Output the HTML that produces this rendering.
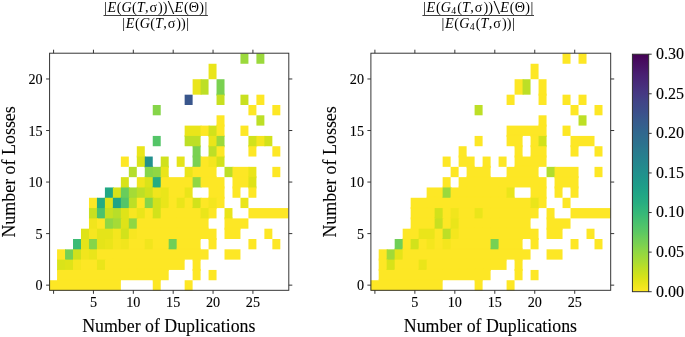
<!DOCTYPE html>
<html><head><meta charset="utf-8"><title>Heatmaps</title>
<style>
html,body{margin:0;padding:0;background:#fff;}
svg{display:block;will-change:transform}
svg text{filter:grayscale(1)}
text{font-family:"Liberation Serif",serif;fill:#000;stroke:#000;stroke-width:0.12px}
.tk{font-size:14.6px}
.cb{font-size:16px}
.lb{font-size:19.6px}
.tt{font-size:14.2px;stroke:none}
.it{font-style:italic}
.sub{font-size:9.8px}
</style></head><body>
<svg width="685" height="337" viewBox="0 0 685 337">
<rect width="685" height="337" fill="#fff"/>
<g id="hm-left">
<rect x="240.46" y="53.45" width="7.97" height="10.31" fill="#9bd93c"/>
<rect x="256.41" y="53.45" width="7.97" height="10.31" fill="#9bd93c"/>
<rect x="208.57" y="63.76" width="7.97" height="15.46" fill="#eae51a"/>
<rect x="192.62" y="79.22" width="8.97" height="15.46" fill="#eae51a"/>
<rect x="200.59" y="79.22" width="7.97" height="15.46" fill="#bddf26"/>
<rect x="216.54" y="79.22" width="7.97" height="15.46" fill="#7ad151"/>
<rect x="216.54" y="93.68" width="7.97" height="2.0" fill="#7ad151"/>
<rect x="184.65" y="94.68" width="7.97" height="10.31" fill="#39568c"/>
<rect x="216.54" y="94.68" width="7.97" height="10.31" fill="#c8e020"/>
<rect x="240.46" y="94.68" width="7.97" height="10.31" fill="#c8e020"/>
<rect x="256.41" y="94.68" width="7.97" height="10.31" fill="#fde725"/>
<rect x="152.75" y="104.99" width="7.97" height="10.31" fill="#86d549"/>
<rect x="248.43" y="104.99" width="7.97" height="10.31" fill="#fde725"/>
<rect x="272.35" y="104.99" width="7.97" height="10.31" fill="#fde725"/>
<rect x="216.54" y="115.30" width="7.97" height="10.31" fill="#fde725"/>
<rect x="216.54" y="124.61" width="7.97" height="2.0" fill="#fde725"/>
<rect x="256.41" y="115.30" width="7.97" height="10.31" fill="#bddf26"/>
<rect x="184.65" y="125.61" width="16.95" height="10.31" fill="#eae51a"/>
<rect x="184.65" y="134.92" width="8.97" height="2.0" fill="#eae51a"/>
<rect x="192.62" y="134.92" width="7.97" height="2.0" fill="#eae51a"/>
<rect x="200.59" y="125.61" width="8.97" height="10.31" fill="#fde725"/>
<rect x="208.57" y="125.61" width="8.97" height="10.31" fill="#d2e21b"/>
<rect x="208.57" y="134.92" width="8.97" height="2.0" fill="#d2e21b"/>
<rect x="216.54" y="125.61" width="7.97" height="10.31" fill="#fde725"/>
<rect x="216.54" y="134.92" width="7.97" height="2.0" fill="#fde725"/>
<rect x="240.46" y="125.61" width="7.97" height="10.31" fill="#fde725"/>
<rect x="152.75" y="135.92" width="7.97" height="10.31" fill="#54c568"/>
<rect x="184.65" y="135.92" width="15.95" height="10.31" fill="#bddf26"/>
<rect x="192.62" y="145.23" width="7.97" height="2.0" fill="#bddf26"/>
<rect x="208.57" y="135.92" width="8.97" height="10.31" fill="#eae51a"/>
<rect x="208.57" y="145.23" width="8.97" height="2.0" fill="#eae51a"/>
<rect x="216.54" y="135.92" width="7.97" height="10.31" fill="#9bd93c"/>
<rect x="216.54" y="145.23" width="7.97" height="2.0" fill="#9bd93c"/>
<rect x="248.43" y="135.92" width="8.97" height="10.31" fill="#d2e21b"/>
<rect x="248.43" y="145.23" width="7.97" height="2.0" fill="#d2e21b"/>
<rect x="256.41" y="135.92" width="8.97" height="10.31" fill="#f4e61e"/>
<rect x="264.38" y="135.92" width="7.97" height="10.31" fill="#d2e21b"/>
<rect x="136.81" y="146.23" width="7.97" height="10.31" fill="#eae51a"/>
<rect x="136.81" y="155.54" width="7.97" height="2.0" fill="#eae51a"/>
<rect x="192.62" y="146.23" width="7.97" height="10.31" fill="#7ad151"/>
<rect x="192.62" y="155.54" width="7.97" height="2.0" fill="#7ad151"/>
<rect x="208.57" y="146.23" width="8.97" height="10.31" fill="#bddf26"/>
<rect x="208.57" y="155.54" width="8.97" height="2.0" fill="#bddf26"/>
<rect x="216.54" y="146.23" width="7.97" height="10.31" fill="#fde725"/>
<rect x="216.54" y="155.54" width="7.97" height="2.0" fill="#fde725"/>
<rect x="248.43" y="146.23" width="7.97" height="10.31" fill="#fde725"/>
<rect x="272.35" y="146.23" width="7.97" height="10.31" fill="#fde725"/>
<rect x="120.86" y="156.54" width="7.97" height="10.31" fill="#fde725"/>
<rect x="136.81" y="156.54" width="8.97" height="10.31" fill="#dae319"/>
<rect x="144.78" y="156.54" width="7.97" height="10.31" fill="#21908d"/>
<rect x="144.78" y="165.85" width="7.97" height="2.0" fill="#21908d"/>
<rect x="160.73" y="156.54" width="7.97" height="10.31" fill="#d0e11c"/>
<rect x="160.73" y="165.85" width="7.97" height="2.0" fill="#d0e11c"/>
<rect x="176.67" y="156.54" width="7.97" height="10.31" fill="#e5e419"/>
<rect x="192.62" y="156.54" width="8.97" height="10.31" fill="#7ad151"/>
<rect x="192.62" y="165.85" width="8.97" height="2.0" fill="#7ad151"/>
<rect x="200.59" y="156.54" width="8.97" height="10.31" fill="#fde725"/>
<rect x="200.59" y="165.85" width="8.97" height="2.0" fill="#fde725"/>
<rect x="208.57" y="156.54" width="8.97" height="10.31" fill="#f4e61e"/>
<rect x="208.57" y="165.85" width="7.97" height="2.0" fill="#f4e61e"/>
<rect x="216.54" y="156.54" width="7.97" height="10.31" fill="#d2e21b"/>
<rect x="128.83" y="166.85" width="7.97" height="10.31" fill="#b5de2b"/>
<rect x="144.78" y="166.85" width="8.97" height="10.31" fill="#86d549"/>
<rect x="144.78" y="176.15" width="8.97" height="2.0" fill="#86d549"/>
<rect x="152.75" y="166.85" width="8.97" height="10.31" fill="#90d743"/>
<rect x="152.75" y="176.15" width="8.97" height="2.0" fill="#90d743"/>
<rect x="160.73" y="166.85" width="7.97" height="10.31" fill="#eae51a"/>
<rect x="160.73" y="176.15" width="7.97" height="2.0" fill="#eae51a"/>
<rect x="184.65" y="166.85" width="8.97" height="10.31" fill="#eae51a"/>
<rect x="184.65" y="176.15" width="8.97" height="2.0" fill="#eae51a"/>
<rect x="192.62" y="166.85" width="23.92" height="10.31" fill="#fde725"/>
<rect x="192.62" y="176.15" width="8.97" height="2.0" fill="#fde725"/>
<rect x="200.59" y="176.15" width="8.97" height="2.0" fill="#fde725"/>
<rect x="208.57" y="176.15" width="7.97" height="2.0" fill="#fde725"/>
<rect x="224.51" y="166.85" width="8.97" height="10.31" fill="#bddf26"/>
<rect x="232.49" y="166.85" width="16.95" height="10.31" fill="#fde725"/>
<rect x="232.49" y="176.15" width="8.97" height="2.0" fill="#fde725"/>
<rect x="240.46" y="176.15" width="8.97" height="2.0" fill="#fde725"/>
<rect x="248.43" y="166.85" width="7.97" height="10.31" fill="#eae51a"/>
<rect x="248.43" y="176.15" width="7.97" height="2.0" fill="#eae51a"/>
<rect x="272.35" y="166.85" width="7.97" height="10.31" fill="#fde725"/>
<rect x="120.86" y="177.15" width="7.97" height="10.31" fill="#d8e219"/>
<rect x="120.86" y="186.46" width="7.97" height="2.0" fill="#d8e219"/>
<rect x="136.81" y="177.15" width="8.97" height="10.31" fill="#f1e51d"/>
<rect x="136.81" y="186.46" width="8.97" height="2.0" fill="#f1e51d"/>
<rect x="144.78" y="177.15" width="8.97" height="10.31" fill="#dae319"/>
<rect x="144.78" y="186.46" width="8.97" height="2.0" fill="#dae319"/>
<rect x="152.75" y="177.15" width="8.97" height="10.31" fill="#25ac82"/>
<rect x="152.75" y="186.46" width="8.97" height="2.0" fill="#25ac82"/>
<rect x="160.73" y="177.15" width="32.89" height="10.31" fill="#fde725"/>
<rect x="160.73" y="186.46" width="8.97" height="2.0" fill="#fde725"/>
<rect x="168.70" y="186.46" width="8.97" height="2.0" fill="#fde725"/>
<rect x="176.67" y="186.46" width="8.97" height="2.0" fill="#fde725"/>
<rect x="184.65" y="186.46" width="7.97" height="2.0" fill="#fde725"/>
<rect x="192.62" y="177.15" width="8.97" height="10.31" fill="#90d743"/>
<rect x="200.59" y="177.15" width="23.92" height="10.31" fill="#fde725"/>
<rect x="208.57" y="186.46" width="8.97" height="2.0" fill="#fde725"/>
<rect x="216.54" y="186.46" width="7.97" height="2.0" fill="#fde725"/>
<rect x="232.49" y="177.15" width="16.95" height="10.31" fill="#fde725"/>
<rect x="232.49" y="186.46" width="7.97" height="2.0" fill="#fde725"/>
<rect x="248.43" y="177.15" width="7.97" height="10.31" fill="#dfe318"/>
<rect x="248.43" y="186.46" width="7.97" height="2.0" fill="#dfe318"/>
<rect x="104.91" y="187.46" width="8.97" height="10.31" fill="#22a884"/>
<rect x="104.91" y="196.77" width="8.97" height="2.0" fill="#22a884"/>
<rect x="112.89" y="187.46" width="8.97" height="10.31" fill="#d8e219"/>
<rect x="112.89" y="196.77" width="8.97" height="2.0" fill="#d8e219"/>
<rect x="120.86" y="187.46" width="8.97" height="10.31" fill="#69cd5b"/>
<rect x="120.86" y="196.77" width="8.97" height="2.0" fill="#69cd5b"/>
<rect x="128.83" y="187.46" width="8.97" height="10.31" fill="#a5db36"/>
<rect x="128.83" y="196.77" width="8.97" height="2.0" fill="#a5db36"/>
<rect x="136.81" y="187.46" width="8.97" height="10.31" fill="#bddf26"/>
<rect x="136.81" y="196.77" width="8.97" height="2.0" fill="#bddf26"/>
<rect x="144.78" y="187.46" width="8.97" height="10.31" fill="#d0e11c"/>
<rect x="144.78" y="196.77" width="8.97" height="2.0" fill="#d0e11c"/>
<rect x="152.75" y="187.46" width="8.97" height="10.31" fill="#f1e51d"/>
<rect x="152.75" y="196.77" width="8.97" height="2.0" fill="#f1e51d"/>
<rect x="160.73" y="187.46" width="8.97" height="10.31" fill="#eae51a"/>
<rect x="160.73" y="196.77" width="8.97" height="2.0" fill="#eae51a"/>
<rect x="168.70" y="187.46" width="16.95" height="10.31" fill="#fde725"/>
<rect x="168.70" y="196.77" width="8.97" height="2.0" fill="#fde725"/>
<rect x="176.67" y="196.77" width="8.97" height="2.0" fill="#fde725"/>
<rect x="184.65" y="187.46" width="7.97" height="10.31" fill="#eae51a"/>
<rect x="184.65" y="196.77" width="7.97" height="2.0" fill="#eae51a"/>
<rect x="208.57" y="187.46" width="15.95" height="10.31" fill="#fde725"/>
<rect x="208.57" y="196.77" width="8.97" height="2.0" fill="#fde725"/>
<rect x="216.54" y="196.77" width="7.97" height="2.0" fill="#fde725"/>
<rect x="232.49" y="187.46" width="7.97" height="10.31" fill="#fde725"/>
<rect x="248.43" y="187.46" width="7.97" height="10.31" fill="#fde725"/>
<rect x="88.97" y="197.77" width="8.97" height="10.31" fill="#fde725"/>
<rect x="88.97" y="207.08" width="8.97" height="2.0" fill="#fde725"/>
<rect x="96.94" y="197.77" width="8.97" height="10.31" fill="#25ac82"/>
<rect x="96.94" y="207.08" width="8.97" height="2.0" fill="#25ac82"/>
<rect x="104.91" y="197.77" width="8.97" height="10.31" fill="#dfe318"/>
<rect x="104.91" y="207.08" width="8.97" height="2.0" fill="#dfe318"/>
<rect x="112.89" y="197.77" width="8.97" height="10.31" fill="#20a486"/>
<rect x="112.89" y="207.08" width="8.97" height="2.0" fill="#20a486"/>
<rect x="120.86" y="197.77" width="8.97" height="10.31" fill="#54c568"/>
<rect x="120.86" y="207.08" width="8.97" height="2.0" fill="#54c568"/>
<rect x="128.83" y="197.77" width="8.97" height="10.31" fill="#bddf26"/>
<rect x="128.83" y="207.08" width="8.97" height="2.0" fill="#bddf26"/>
<rect x="136.81" y="197.77" width="8.97" height="10.31" fill="#fde725"/>
<rect x="136.81" y="207.08" width="8.97" height="2.0" fill="#fde725"/>
<rect x="144.78" y="197.77" width="8.97" height="10.31" fill="#86d549"/>
<rect x="144.78" y="207.08" width="8.97" height="2.0" fill="#86d549"/>
<rect x="152.75" y="197.77" width="8.97" height="10.31" fill="#d2e21b"/>
<rect x="152.75" y="207.08" width="8.97" height="2.0" fill="#d2e21b"/>
<rect x="160.73" y="197.77" width="8.97" height="10.31" fill="#eae51a"/>
<rect x="160.73" y="207.08" width="8.97" height="2.0" fill="#eae51a"/>
<rect x="168.70" y="197.77" width="8.97" height="10.31" fill="#fde725"/>
<rect x="168.70" y="207.08" width="8.97" height="2.0" fill="#fde725"/>
<rect x="176.67" y="197.77" width="8.97" height="10.31" fill="#eae51a"/>
<rect x="176.67" y="207.08" width="8.97" height="2.0" fill="#eae51a"/>
<rect x="184.65" y="197.77" width="8.97" height="10.31" fill="#fde725"/>
<rect x="184.65" y="207.08" width="8.97" height="2.0" fill="#fde725"/>
<rect x="192.62" y="197.77" width="8.97" height="10.31" fill="#d2e21b"/>
<rect x="192.62" y="207.08" width="8.97" height="2.0" fill="#d2e21b"/>
<rect x="200.59" y="197.77" width="8.97" height="10.31" fill="#fde725"/>
<rect x="200.59" y="207.08" width="8.97" height="2.0" fill="#fde725"/>
<rect x="208.57" y="197.77" width="8.97" height="10.31" fill="#f4e61e"/>
<rect x="208.57" y="207.08" width="7.97" height="2.0" fill="#f4e61e"/>
<rect x="216.54" y="197.77" width="7.97" height="10.31" fill="#fde725"/>
<rect x="240.46" y="197.77" width="7.97" height="10.31" fill="#eae51a"/>
<rect x="88.97" y="208.08" width="8.97" height="10.31" fill="#c8e020"/>
<rect x="88.97" y="217.39" width="8.97" height="2.0" fill="#c8e020"/>
<rect x="96.94" y="208.08" width="8.97" height="10.31" fill="#4cc26c"/>
<rect x="96.94" y="217.39" width="8.97" height="2.0" fill="#4cc26c"/>
<rect x="104.91" y="208.08" width="8.97" height="10.31" fill="#c8e020"/>
<rect x="104.91" y="217.39" width="8.97" height="2.0" fill="#c8e020"/>
<rect x="112.89" y="208.08" width="8.97" height="10.31" fill="#b8de29"/>
<rect x="112.89" y="217.39" width="8.97" height="2.0" fill="#b8de29"/>
<rect x="120.86" y="208.08" width="8.97" height="10.31" fill="#dfe318"/>
<rect x="120.86" y="217.39" width="8.97" height="2.0" fill="#dfe318"/>
<rect x="128.83" y="208.08" width="8.97" height="10.31" fill="#f8e621"/>
<rect x="128.83" y="217.39" width="8.97" height="2.0" fill="#f8e621"/>
<rect x="136.81" y="208.08" width="8.97" height="10.31" fill="#eae51a"/>
<rect x="136.81" y="217.39" width="8.97" height="2.0" fill="#eae51a"/>
<rect x="144.78" y="208.08" width="8.97" height="10.31" fill="#fde725"/>
<rect x="144.78" y="217.39" width="8.97" height="2.0" fill="#fde725"/>
<rect x="152.75" y="208.08" width="8.97" height="10.31" fill="#d2e21b"/>
<rect x="152.75" y="217.39" width="8.97" height="2.0" fill="#d2e21b"/>
<rect x="160.73" y="208.08" width="40.87" height="10.31" fill="#fde725"/>
<rect x="160.73" y="217.39" width="8.97" height="2.0" fill="#fde725"/>
<rect x="168.70" y="217.39" width="8.97" height="2.0" fill="#fde725"/>
<rect x="176.67" y="217.39" width="8.97" height="2.0" fill="#fde725"/>
<rect x="184.65" y="217.39" width="8.97" height="2.0" fill="#fde725"/>
<rect x="192.62" y="217.39" width="8.97" height="2.0" fill="#fde725"/>
<rect x="200.59" y="208.08" width="8.97" height="10.31" fill="#eae51a"/>
<rect x="200.59" y="217.39" width="7.97" height="2.0" fill="#eae51a"/>
<rect x="208.57" y="208.08" width="7.97" height="10.31" fill="#fde725"/>
<rect x="224.51" y="208.08" width="7.97" height="10.31" fill="#eae51a"/>
<rect x="224.51" y="217.39" width="7.97" height="2.0" fill="#eae51a"/>
<rect x="248.43" y="208.08" width="39.87" height="10.31" fill="#fde725"/>
<rect x="88.97" y="218.39" width="8.97" height="10.31" fill="#f1e51d"/>
<rect x="88.97" y="227.70" width="8.97" height="2.0" fill="#f1e51d"/>
<rect x="96.94" y="218.39" width="8.97" height="10.31" fill="#fde725"/>
<rect x="96.94" y="227.70" width="8.97" height="2.0" fill="#fde725"/>
<rect x="104.91" y="218.39" width="8.97" height="10.31" fill="#90d743"/>
<rect x="104.91" y="227.70" width="8.97" height="2.0" fill="#90d743"/>
<rect x="112.89" y="218.39" width="8.97" height="10.31" fill="#a5db36"/>
<rect x="112.89" y="227.70" width="8.97" height="2.0" fill="#a5db36"/>
<rect x="120.86" y="218.39" width="8.97" height="10.31" fill="#dfe318"/>
<rect x="120.86" y="227.70" width="8.97" height="2.0" fill="#dfe318"/>
<rect x="128.83" y="218.39" width="8.97" height="10.31" fill="#90d743"/>
<rect x="128.83" y="227.70" width="8.97" height="2.0" fill="#90d743"/>
<rect x="136.81" y="218.39" width="71.76" height="10.31" fill="#fde725"/>
<rect x="136.81" y="227.70" width="8.97" height="2.0" fill="#fde725"/>
<rect x="144.78" y="227.70" width="8.97" height="2.0" fill="#fde725"/>
<rect x="152.75" y="227.70" width="8.97" height="2.0" fill="#fde725"/>
<rect x="160.73" y="227.70" width="8.97" height="2.0" fill="#fde725"/>
<rect x="168.70" y="227.70" width="8.97" height="2.0" fill="#fde725"/>
<rect x="176.67" y="227.70" width="8.97" height="2.0" fill="#fde725"/>
<rect x="184.65" y="227.70" width="8.97" height="2.0" fill="#fde725"/>
<rect x="192.62" y="227.70" width="8.97" height="2.0" fill="#fde725"/>
<rect x="200.59" y="227.70" width="7.97" height="2.0" fill="#fde725"/>
<rect x="224.51" y="218.39" width="23.92" height="10.31" fill="#fde725"/>
<rect x="224.51" y="227.70" width="8.97" height="2.0" fill="#fde725"/>
<rect x="232.49" y="227.70" width="7.97" height="2.0" fill="#fde725"/>
<rect x="80.99" y="228.70" width="8.97" height="10.31" fill="#dfe318"/>
<rect x="80.99" y="238.01" width="8.97" height="2.0" fill="#dfe318"/>
<rect x="88.97" y="228.70" width="8.97" height="10.31" fill="#f6e620"/>
<rect x="88.97" y="238.01" width="8.97" height="2.0" fill="#f6e620"/>
<rect x="96.94" y="228.70" width="16.95" height="10.31" fill="#e5e419"/>
<rect x="96.94" y="238.01" width="8.97" height="2.0" fill="#e5e419"/>
<rect x="104.91" y="238.01" width="8.97" height="2.0" fill="#e5e419"/>
<rect x="112.89" y="228.70" width="8.97" height="10.31" fill="#f4e61e"/>
<rect x="112.89" y="238.01" width="8.97" height="2.0" fill="#f4e61e"/>
<rect x="120.86" y="228.70" width="8.97" height="10.31" fill="#d2e21b"/>
<rect x="120.86" y="238.01" width="8.97" height="2.0" fill="#d2e21b"/>
<rect x="128.83" y="228.70" width="8.97" height="10.31" fill="#f8e621"/>
<rect x="128.83" y="238.01" width="8.97" height="2.0" fill="#f8e621"/>
<rect x="136.81" y="228.70" width="79.73" height="10.31" fill="#fde725"/>
<rect x="136.81" y="238.01" width="8.97" height="2.0" fill="#fde725"/>
<rect x="144.78" y="238.01" width="8.97" height="2.0" fill="#fde725"/>
<rect x="152.75" y="238.01" width="8.97" height="2.0" fill="#fde725"/>
<rect x="160.73" y="238.01" width="8.97" height="2.0" fill="#fde725"/>
<rect x="168.70" y="238.01" width="8.97" height="2.0" fill="#fde725"/>
<rect x="176.67" y="238.01" width="8.97" height="2.0" fill="#fde725"/>
<rect x="184.65" y="238.01" width="8.97" height="2.0" fill="#fde725"/>
<rect x="192.62" y="238.01" width="7.97" height="2.0" fill="#fde725"/>
<rect x="208.57" y="238.01" width="7.97" height="2.0" fill="#fde725"/>
<rect x="224.51" y="228.70" width="15.95" height="10.31" fill="#fde725"/>
<rect x="264.38" y="228.70" width="7.97" height="10.31" fill="#fde725"/>
<rect x="73.02" y="239.01" width="8.97" height="10.31" fill="#3bbb75"/>
<rect x="73.02" y="248.32" width="8.97" height="2.0" fill="#3bbb75"/>
<rect x="80.99" y="239.01" width="8.97" height="10.31" fill="#e5e419"/>
<rect x="80.99" y="248.32" width="8.97" height="2.0" fill="#e5e419"/>
<rect x="88.97" y="239.01" width="8.97" height="10.31" fill="#86d549"/>
<rect x="88.97" y="248.32" width="8.97" height="2.0" fill="#86d549"/>
<rect x="96.94" y="239.01" width="8.97" height="10.31" fill="#e5e419"/>
<rect x="96.94" y="248.32" width="8.97" height="2.0" fill="#e5e419"/>
<rect x="104.91" y="239.01" width="8.97" height="10.31" fill="#eae51a"/>
<rect x="104.91" y="248.32" width="8.97" height="2.0" fill="#eae51a"/>
<rect x="112.89" y="239.01" width="8.97" height="10.31" fill="#f6e620"/>
<rect x="112.89" y="248.32" width="8.97" height="2.0" fill="#f6e620"/>
<rect x="120.86" y="239.01" width="8.97" height="10.31" fill="#f1e51d"/>
<rect x="120.86" y="248.32" width="8.97" height="2.0" fill="#f1e51d"/>
<rect x="128.83" y="239.01" width="16.95" height="10.31" fill="#fde725"/>
<rect x="128.83" y="248.32" width="8.97" height="2.0" fill="#fde725"/>
<rect x="136.81" y="248.32" width="8.97" height="2.0" fill="#fde725"/>
<rect x="144.78" y="239.01" width="8.97" height="10.31" fill="#f1e51d"/>
<rect x="144.78" y="248.32" width="8.97" height="2.0" fill="#f1e51d"/>
<rect x="152.75" y="239.01" width="16.95" height="10.31" fill="#fde725"/>
<rect x="152.75" y="248.32" width="8.97" height="2.0" fill="#fde725"/>
<rect x="160.73" y="248.32" width="8.97" height="2.0" fill="#fde725"/>
<rect x="168.70" y="239.01" width="8.97" height="10.31" fill="#70cf57"/>
<rect x="168.70" y="248.32" width="8.97" height="2.0" fill="#70cf57"/>
<rect x="176.67" y="239.01" width="23.92" height="10.31" fill="#fde725"/>
<rect x="176.67" y="248.32" width="8.97" height="2.0" fill="#fde725"/>
<rect x="184.65" y="248.32" width="8.97" height="2.0" fill="#fde725"/>
<rect x="192.62" y="248.32" width="7.97" height="2.0" fill="#fde725"/>
<rect x="208.57" y="239.01" width="7.97" height="10.31" fill="#fde725"/>
<rect x="248.43" y="239.01" width="7.97" height="10.31" fill="#fde725"/>
<rect x="272.35" y="239.01" width="7.97" height="10.31" fill="#fde725"/>
<rect x="57.07" y="249.32" width="8.97" height="10.31" fill="#fde725"/>
<rect x="57.07" y="258.62" width="8.97" height="2.0" fill="#fde725"/>
<rect x="65.05" y="249.32" width="8.97" height="10.31" fill="#75d054"/>
<rect x="65.05" y="258.62" width="8.97" height="2.0" fill="#75d054"/>
<rect x="73.02" y="249.32" width="8.97" height="10.31" fill="#d0e11c"/>
<rect x="73.02" y="258.62" width="8.97" height="2.0" fill="#d0e11c"/>
<rect x="80.99" y="249.32" width="8.97" height="10.31" fill="#f1e51d"/>
<rect x="80.99" y="258.62" width="8.97" height="2.0" fill="#f1e51d"/>
<rect x="88.97" y="249.32" width="8.97" height="10.31" fill="#eae51a"/>
<rect x="88.97" y="258.62" width="8.97" height="2.0" fill="#eae51a"/>
<rect x="96.94" y="249.32" width="111.63" height="10.31" fill="#fde725"/>
<rect x="96.94" y="258.62" width="8.97" height="2.0" fill="#fde725"/>
<rect x="104.91" y="258.62" width="8.97" height="2.0" fill="#fde725"/>
<rect x="112.89" y="258.62" width="8.97" height="2.0" fill="#fde725"/>
<rect x="120.86" y="258.62" width="8.97" height="2.0" fill="#fde725"/>
<rect x="128.83" y="258.62" width="8.97" height="2.0" fill="#fde725"/>
<rect x="136.81" y="258.62" width="8.97" height="2.0" fill="#fde725"/>
<rect x="144.78" y="258.62" width="8.97" height="2.0" fill="#fde725"/>
<rect x="152.75" y="258.62" width="8.97" height="2.0" fill="#fde725"/>
<rect x="160.73" y="258.62" width="8.97" height="2.0" fill="#fde725"/>
<rect x="168.70" y="258.62" width="8.97" height="2.0" fill="#fde725"/>
<rect x="176.67" y="258.62" width="7.97" height="2.0" fill="#fde725"/>
<rect x="192.62" y="258.62" width="7.97" height="2.0" fill="#fde725"/>
<rect x="224.51" y="249.32" width="15.95" height="10.31" fill="#fde725"/>
<rect x="57.07" y="259.62" width="8.97" height="10.31" fill="#dae319"/>
<rect x="57.07" y="268.93" width="8.97" height="2.0" fill="#dae319"/>
<rect x="65.05" y="259.62" width="8.97" height="10.31" fill="#dfe318"/>
<rect x="65.05" y="268.93" width="8.97" height="2.0" fill="#dfe318"/>
<rect x="73.02" y="259.62" width="8.97" height="10.31" fill="#f6e620"/>
<rect x="73.02" y="268.93" width="8.97" height="2.0" fill="#f6e620"/>
<rect x="80.99" y="259.62" width="16.95" height="10.31" fill="#fde725"/>
<rect x="80.99" y="268.93" width="8.97" height="2.0" fill="#fde725"/>
<rect x="88.97" y="268.93" width="8.97" height="2.0" fill="#fde725"/>
<rect x="96.94" y="259.62" width="8.97" height="10.31" fill="#eae51a"/>
<rect x="96.94" y="268.93" width="8.97" height="2.0" fill="#eae51a"/>
<rect x="104.91" y="259.62" width="79.73" height="10.31" fill="#fde725"/>
<rect x="104.91" y="268.93" width="8.97" height="2.0" fill="#fde725"/>
<rect x="112.89" y="268.93" width="8.97" height="2.0" fill="#fde725"/>
<rect x="120.86" y="268.93" width="8.97" height="2.0" fill="#fde725"/>
<rect x="128.83" y="268.93" width="8.97" height="2.0" fill="#fde725"/>
<rect x="136.81" y="268.93" width="8.97" height="2.0" fill="#fde725"/>
<rect x="144.78" y="268.93" width="8.97" height="2.0" fill="#fde725"/>
<rect x="152.75" y="268.93" width="8.97" height="2.0" fill="#fde725"/>
<rect x="160.73" y="268.93" width="7.97" height="2.0" fill="#fde725"/>
<rect x="192.62" y="259.62" width="7.97" height="10.31" fill="#fde725"/>
<rect x="192.62" y="268.93" width="7.97" height="2.0" fill="#fde725"/>
<rect x="57.07" y="269.93" width="111.63" height="10.31" fill="#fde725"/>
<rect x="57.07" y="279.24" width="8.97" height="2.0" fill="#fde725"/>
<rect x="65.05" y="279.24" width="8.97" height="2.0" fill="#fde725"/>
<rect x="73.02" y="279.24" width="8.97" height="2.0" fill="#fde725"/>
<rect x="80.99" y="279.24" width="8.97" height="2.0" fill="#fde725"/>
<rect x="88.97" y="279.24" width="8.97" height="2.0" fill="#fde725"/>
<rect x="96.94" y="279.24" width="8.97" height="2.0" fill="#fde725"/>
<rect x="104.91" y="279.24" width="8.97" height="2.0" fill="#fde725"/>
<rect x="112.89" y="279.24" width="7.97" height="2.0" fill="#fde725"/>
<rect x="152.75" y="279.24" width="7.97" height="2.0" fill="#fde725"/>
<rect x="192.62" y="269.93" width="7.97" height="10.31" fill="#fde725"/>
<rect x="208.57" y="269.93" width="7.97" height="10.31" fill="#fde725"/>
<rect x="49.10" y="280.24" width="71.76" height="10.31" fill="#fde725"/>
<rect x="152.75" y="280.24" width="7.97" height="10.31" fill="#fde725"/>
<rect x="184.65" y="280.24" width="7.97" height="10.31" fill="#fde725"/>
</g>
<g id="hm-right">
<rect x="562.54" y="53.45" width="7.99" height="10.31" fill="#fde725"/>
<rect x="578.53" y="53.45" width="7.99" height="10.31" fill="#fde725"/>
<rect x="530.57" y="63.76" width="7.99" height="15.46" fill="#fde725"/>
<rect x="514.58" y="79.22" width="8.99" height="15.46" fill="#fde725"/>
<rect x="522.57" y="79.22" width="7.99" height="15.46" fill="#bddf26"/>
<rect x="538.56" y="79.22" width="7.99" height="15.46" fill="#fde725"/>
<rect x="538.56" y="93.68" width="7.99" height="2.0" fill="#fde725"/>
<rect x="506.59" y="94.68" width="7.99" height="10.31" fill="#fde725"/>
<rect x="538.56" y="94.68" width="7.99" height="10.31" fill="#fde725"/>
<rect x="562.54" y="94.68" width="7.99" height="10.31" fill="#fde725"/>
<rect x="578.53" y="94.68" width="7.99" height="10.31" fill="#fde725"/>
<rect x="474.61" y="104.99" width="7.99" height="10.31" fill="#bddf26"/>
<rect x="570.53" y="104.99" width="7.99" height="10.31" fill="#fde725"/>
<rect x="594.51" y="104.99" width="7.99" height="10.31" fill="#fde725"/>
<rect x="538.56" y="115.30" width="7.99" height="10.31" fill="#fde725"/>
<rect x="538.56" y="124.61" width="7.99" height="2.0" fill="#fde725"/>
<rect x="578.53" y="115.30" width="7.99" height="10.31" fill="#bddf26"/>
<rect x="506.59" y="125.61" width="39.97" height="10.31" fill="#fde725"/>
<rect x="506.59" y="134.92" width="8.99" height="2.0" fill="#fde725"/>
<rect x="514.58" y="134.92" width="7.99" height="2.0" fill="#fde725"/>
<rect x="530.57" y="134.92" width="8.99" height="2.0" fill="#fde725"/>
<rect x="538.56" y="134.92" width="7.99" height="2.0" fill="#fde725"/>
<rect x="562.54" y="125.61" width="7.99" height="10.31" fill="#fde725"/>
<rect x="474.61" y="135.92" width="7.99" height="10.31" fill="#fde725"/>
<rect x="506.59" y="135.92" width="15.99" height="10.31" fill="#fde725"/>
<rect x="514.58" y="145.23" width="7.99" height="2.0" fill="#fde725"/>
<rect x="530.57" y="135.92" width="8.99" height="10.31" fill="#fde725"/>
<rect x="530.57" y="145.23" width="8.99" height="2.0" fill="#fde725"/>
<rect x="538.56" y="135.92" width="7.99" height="10.31" fill="#d2e21b"/>
<rect x="538.56" y="145.23" width="7.99" height="2.0" fill="#d2e21b"/>
<rect x="570.53" y="135.92" width="23.98" height="10.31" fill="#fde725"/>
<rect x="570.53" y="145.23" width="7.99" height="2.0" fill="#fde725"/>
<rect x="458.63" y="146.23" width="7.99" height="10.31" fill="#fde725"/>
<rect x="458.63" y="155.54" width="7.99" height="2.0" fill="#fde725"/>
<rect x="514.58" y="146.23" width="7.99" height="10.31" fill="#fde725"/>
<rect x="514.58" y="155.54" width="7.99" height="2.0" fill="#fde725"/>
<rect x="530.57" y="146.23" width="15.99" height="10.31" fill="#fde725"/>
<rect x="530.57" y="155.54" width="8.99" height="2.0" fill="#fde725"/>
<rect x="538.56" y="155.54" width="7.99" height="2.0" fill="#fde725"/>
<rect x="570.53" y="146.23" width="7.99" height="10.31" fill="#fde725"/>
<rect x="594.51" y="146.23" width="7.99" height="10.31" fill="#fde725"/>
<rect x="442.64" y="156.54" width="7.99" height="10.31" fill="#fde725"/>
<rect x="458.63" y="156.54" width="15.99" height="10.31" fill="#fde725"/>
<rect x="466.62" y="165.85" width="7.99" height="2.0" fill="#fde725"/>
<rect x="482.61" y="156.54" width="7.99" height="10.31" fill="#fde725"/>
<rect x="482.61" y="165.85" width="7.99" height="2.0" fill="#fde725"/>
<rect x="498.59" y="156.54" width="7.99" height="10.31" fill="#fde725"/>
<rect x="514.58" y="156.54" width="31.97" height="10.31" fill="#fde725"/>
<rect x="514.58" y="165.85" width="8.99" height="2.0" fill="#fde725"/>
<rect x="522.57" y="165.85" width="8.99" height="2.0" fill="#fde725"/>
<rect x="530.57" y="165.85" width="7.99" height="2.0" fill="#fde725"/>
<rect x="450.63" y="166.85" width="7.99" height="10.31" fill="#fde725"/>
<rect x="466.62" y="166.85" width="23.98" height="10.31" fill="#fde725"/>
<rect x="466.62" y="176.15" width="8.99" height="2.0" fill="#fde725"/>
<rect x="474.61" y="176.15" width="8.99" height="2.0" fill="#fde725"/>
<rect x="482.61" y="176.15" width="7.99" height="2.0" fill="#fde725"/>
<rect x="506.59" y="166.85" width="31.97" height="10.31" fill="#fde725"/>
<rect x="506.59" y="176.15" width="8.99" height="2.0" fill="#fde725"/>
<rect x="514.58" y="176.15" width="8.99" height="2.0" fill="#fde725"/>
<rect x="522.57" y="176.15" width="8.99" height="2.0" fill="#fde725"/>
<rect x="530.57" y="176.15" width="7.99" height="2.0" fill="#fde725"/>
<rect x="546.55" y="166.85" width="8.99" height="10.31" fill="#b2dd2d"/>
<rect x="554.55" y="166.85" width="23.98" height="10.31" fill="#fde725"/>
<rect x="554.55" y="176.15" width="8.99" height="2.0" fill="#fde725"/>
<rect x="562.54" y="176.15" width="8.99" height="2.0" fill="#fde725"/>
<rect x="570.53" y="176.15" width="7.99" height="2.0" fill="#fde725"/>
<rect x="594.51" y="166.85" width="7.99" height="10.31" fill="#fde725"/>
<rect x="442.64" y="177.15" width="7.99" height="10.31" fill="#fde725"/>
<rect x="442.64" y="186.46" width="7.99" height="2.0" fill="#fde725"/>
<rect x="458.63" y="177.15" width="87.93" height="10.31" fill="#fde725"/>
<rect x="458.63" y="186.46" width="8.99" height="2.0" fill="#fde725"/>
<rect x="466.62" y="186.46" width="8.99" height="2.0" fill="#fde725"/>
<rect x="474.61" y="186.46" width="8.99" height="2.0" fill="#fde725"/>
<rect x="482.61" y="186.46" width="8.99" height="2.0" fill="#fde725"/>
<rect x="490.60" y="186.46" width="8.99" height="2.0" fill="#fde725"/>
<rect x="498.59" y="186.46" width="8.99" height="2.0" fill="#fde725"/>
<rect x="506.59" y="186.46" width="7.99" height="2.0" fill="#fde725"/>
<rect x="530.57" y="186.46" width="8.99" height="2.0" fill="#fde725"/>
<rect x="538.56" y="186.46" width="7.99" height="2.0" fill="#fde725"/>
<rect x="554.55" y="177.15" width="23.98" height="10.31" fill="#fde725"/>
<rect x="554.55" y="186.46" width="7.99" height="2.0" fill="#fde725"/>
<rect x="570.53" y="186.46" width="7.99" height="2.0" fill="#fde725"/>
<rect x="426.65" y="187.46" width="16.99" height="10.31" fill="#fde725"/>
<rect x="426.65" y="196.77" width="8.99" height="2.0" fill="#fde725"/>
<rect x="434.65" y="196.77" width="8.99" height="2.0" fill="#fde725"/>
<rect x="442.64" y="187.46" width="8.99" height="10.31" fill="#9bd93c"/>
<rect x="442.64" y="196.77" width="8.99" height="2.0" fill="#9bd93c"/>
<rect x="450.63" y="187.46" width="56.95" height="10.31" fill="#fde725"/>
<rect x="450.63" y="196.77" width="8.99" height="2.0" fill="#fde725"/>
<rect x="458.63" y="196.77" width="8.99" height="2.0" fill="#fde725"/>
<rect x="466.62" y="196.77" width="8.99" height="2.0" fill="#fde725"/>
<rect x="474.61" y="196.77" width="8.99" height="2.0" fill="#fde725"/>
<rect x="482.61" y="196.77" width="8.99" height="2.0" fill="#fde725"/>
<rect x="490.60" y="196.77" width="8.99" height="2.0" fill="#fde725"/>
<rect x="498.59" y="196.77" width="8.99" height="2.0" fill="#fde725"/>
<rect x="506.59" y="187.46" width="7.99" height="10.31" fill="#eae51a"/>
<rect x="506.59" y="196.77" width="7.99" height="2.0" fill="#eae51a"/>
<rect x="530.57" y="187.46" width="15.99" height="10.31" fill="#fde725"/>
<rect x="530.57" y="196.77" width="8.99" height="2.0" fill="#fde725"/>
<rect x="538.56" y="196.77" width="7.99" height="2.0" fill="#fde725"/>
<rect x="554.55" y="187.46" width="7.99" height="10.31" fill="#fde725"/>
<rect x="570.53" y="187.46" width="7.99" height="10.31" fill="#fde725"/>
<rect x="410.67" y="197.77" width="120.90" height="10.31" fill="#fde725"/>
<rect x="410.67" y="207.08" width="8.99" height="2.0" fill="#fde725"/>
<rect x="418.66" y="207.08" width="8.99" height="2.0" fill="#fde725"/>
<rect x="426.65" y="207.08" width="8.99" height="2.0" fill="#fde725"/>
<rect x="434.65" y="207.08" width="8.99" height="2.0" fill="#fde725"/>
<rect x="442.64" y="207.08" width="8.99" height="2.0" fill="#fde725"/>
<rect x="450.63" y="207.08" width="8.99" height="2.0" fill="#fde725"/>
<rect x="458.63" y="207.08" width="8.99" height="2.0" fill="#fde725"/>
<rect x="466.62" y="207.08" width="8.99" height="2.0" fill="#fde725"/>
<rect x="474.61" y="207.08" width="8.99" height="2.0" fill="#fde725"/>
<rect x="482.61" y="207.08" width="8.99" height="2.0" fill="#fde725"/>
<rect x="490.60" y="207.08" width="8.99" height="2.0" fill="#fde725"/>
<rect x="498.59" y="207.08" width="8.99" height="2.0" fill="#fde725"/>
<rect x="506.59" y="207.08" width="8.99" height="2.0" fill="#fde725"/>
<rect x="514.58" y="207.08" width="8.99" height="2.0" fill="#fde725"/>
<rect x="522.57" y="207.08" width="8.99" height="2.0" fill="#fde725"/>
<rect x="530.57" y="197.77" width="8.99" height="10.31" fill="#eae51a"/>
<rect x="530.57" y="207.08" width="7.99" height="2.0" fill="#eae51a"/>
<rect x="538.56" y="197.77" width="7.99" height="10.31" fill="#fde725"/>
<rect x="562.54" y="197.77" width="7.99" height="10.31" fill="#fde725"/>
<rect x="410.67" y="208.08" width="24.98" height="10.31" fill="#fde725"/>
<rect x="410.67" y="217.39" width="8.99" height="2.0" fill="#fde725"/>
<rect x="418.66" y="217.39" width="8.99" height="2.0" fill="#fde725"/>
<rect x="426.65" y="217.39" width="8.99" height="2.0" fill="#fde725"/>
<rect x="434.65" y="208.08" width="8.99" height="10.31" fill="#d2e21b"/>
<rect x="434.65" y="217.39" width="8.99" height="2.0" fill="#d2e21b"/>
<rect x="442.64" y="208.08" width="8.99" height="10.31" fill="#fde725"/>
<rect x="442.64" y="217.39" width="8.99" height="2.0" fill="#fde725"/>
<rect x="450.63" y="208.08" width="8.99" height="10.31" fill="#f1e51d"/>
<rect x="450.63" y="217.39" width="8.99" height="2.0" fill="#f1e51d"/>
<rect x="458.63" y="208.08" width="16.99" height="10.31" fill="#fde725"/>
<rect x="458.63" y="217.39" width="8.99" height="2.0" fill="#fde725"/>
<rect x="466.62" y="217.39" width="8.99" height="2.0" fill="#fde725"/>
<rect x="474.61" y="208.08" width="8.99" height="10.31" fill="#eae51a"/>
<rect x="474.61" y="217.39" width="8.99" height="2.0" fill="#eae51a"/>
<rect x="482.61" y="208.08" width="55.95" height="10.31" fill="#fde725"/>
<rect x="482.61" y="217.39" width="8.99" height="2.0" fill="#fde725"/>
<rect x="490.60" y="217.39" width="8.99" height="2.0" fill="#fde725"/>
<rect x="498.59" y="217.39" width="8.99" height="2.0" fill="#fde725"/>
<rect x="506.59" y="217.39" width="8.99" height="2.0" fill="#fde725"/>
<rect x="514.58" y="217.39" width="8.99" height="2.0" fill="#fde725"/>
<rect x="522.57" y="217.39" width="7.99" height="2.0" fill="#fde725"/>
<rect x="546.55" y="208.08" width="7.99" height="10.31" fill="#fde725"/>
<rect x="546.55" y="217.39" width="7.99" height="2.0" fill="#fde725"/>
<rect x="570.53" y="208.08" width="39.97" height="10.31" fill="#fde725"/>
<rect x="410.67" y="218.39" width="24.98" height="10.31" fill="#fde725"/>
<rect x="410.67" y="227.70" width="8.99" height="2.0" fill="#fde725"/>
<rect x="418.66" y="227.70" width="8.99" height="2.0" fill="#fde725"/>
<rect x="426.65" y="227.70" width="8.99" height="2.0" fill="#fde725"/>
<rect x="434.65" y="218.39" width="8.99" height="10.31" fill="#c8e020"/>
<rect x="434.65" y="227.70" width="8.99" height="2.0" fill="#c8e020"/>
<rect x="442.64" y="218.39" width="8.99" height="10.31" fill="#fde725"/>
<rect x="442.64" y="227.70" width="8.99" height="2.0" fill="#fde725"/>
<rect x="450.63" y="218.39" width="8.99" height="10.31" fill="#eae51a"/>
<rect x="450.63" y="227.70" width="8.99" height="2.0" fill="#eae51a"/>
<rect x="458.63" y="218.39" width="71.94" height="10.31" fill="#fde725"/>
<rect x="458.63" y="227.70" width="8.99" height="2.0" fill="#fde725"/>
<rect x="466.62" y="227.70" width="8.99" height="2.0" fill="#fde725"/>
<rect x="474.61" y="227.70" width="8.99" height="2.0" fill="#fde725"/>
<rect x="482.61" y="227.70" width="8.99" height="2.0" fill="#fde725"/>
<rect x="490.60" y="227.70" width="8.99" height="2.0" fill="#fde725"/>
<rect x="498.59" y="227.70" width="8.99" height="2.0" fill="#fde725"/>
<rect x="506.59" y="227.70" width="8.99" height="2.0" fill="#fde725"/>
<rect x="514.58" y="227.70" width="8.99" height="2.0" fill="#fde725"/>
<rect x="522.57" y="227.70" width="7.99" height="2.0" fill="#fde725"/>
<rect x="546.55" y="218.39" width="23.98" height="10.31" fill="#fde725"/>
<rect x="546.55" y="227.70" width="8.99" height="2.0" fill="#fde725"/>
<rect x="554.55" y="227.70" width="7.99" height="2.0" fill="#fde725"/>
<rect x="402.67" y="228.70" width="16.99" height="10.31" fill="#fde725"/>
<rect x="402.67" y="238.01" width="8.99" height="2.0" fill="#fde725"/>
<rect x="410.67" y="238.01" width="8.99" height="2.0" fill="#fde725"/>
<rect x="418.66" y="228.70" width="16.99" height="10.31" fill="#eae51a"/>
<rect x="418.66" y="238.01" width="8.99" height="2.0" fill="#eae51a"/>
<rect x="426.65" y="238.01" width="8.99" height="2.0" fill="#eae51a"/>
<rect x="434.65" y="228.70" width="8.99" height="10.31" fill="#fde725"/>
<rect x="434.65" y="238.01" width="8.99" height="2.0" fill="#fde725"/>
<rect x="442.64" y="228.70" width="8.99" height="10.31" fill="#bddf26"/>
<rect x="442.64" y="238.01" width="8.99" height="2.0" fill="#bddf26"/>
<rect x="450.63" y="228.70" width="8.99" height="10.31" fill="#f4e61e"/>
<rect x="450.63" y="238.01" width="8.99" height="2.0" fill="#f4e61e"/>
<rect x="458.63" y="228.70" width="79.93" height="10.31" fill="#fde725"/>
<rect x="458.63" y="238.01" width="8.99" height="2.0" fill="#fde725"/>
<rect x="466.62" y="238.01" width="8.99" height="2.0" fill="#fde725"/>
<rect x="474.61" y="238.01" width="8.99" height="2.0" fill="#fde725"/>
<rect x="482.61" y="238.01" width="8.99" height="2.0" fill="#fde725"/>
<rect x="490.60" y="238.01" width="8.99" height="2.0" fill="#fde725"/>
<rect x="498.59" y="238.01" width="8.99" height="2.0" fill="#fde725"/>
<rect x="506.59" y="238.01" width="8.99" height="2.0" fill="#fde725"/>
<rect x="514.58" y="238.01" width="7.99" height="2.0" fill="#fde725"/>
<rect x="530.57" y="238.01" width="7.99" height="2.0" fill="#fde725"/>
<rect x="546.55" y="228.70" width="15.99" height="10.31" fill="#fde725"/>
<rect x="586.52" y="228.70" width="7.99" height="10.31" fill="#fde725"/>
<rect x="394.68" y="239.01" width="8.99" height="10.31" fill="#70cf57"/>
<rect x="394.68" y="248.32" width="8.99" height="2.0" fill="#70cf57"/>
<rect x="402.67" y="239.01" width="8.99" height="10.31" fill="#fde725"/>
<rect x="402.67" y="248.32" width="8.99" height="2.0" fill="#fde725"/>
<rect x="410.67" y="239.01" width="8.99" height="10.31" fill="#d2e21b"/>
<rect x="410.67" y="248.32" width="8.99" height="2.0" fill="#d2e21b"/>
<rect x="418.66" y="239.01" width="8.99" height="10.31" fill="#fde725"/>
<rect x="418.66" y="248.32" width="8.99" height="2.0" fill="#fde725"/>
<rect x="426.65" y="239.01" width="8.99" height="10.31" fill="#f4e61e"/>
<rect x="426.65" y="248.32" width="8.99" height="2.0" fill="#f4e61e"/>
<rect x="434.65" y="239.01" width="8.99" height="10.31" fill="#fde725"/>
<rect x="434.65" y="248.32" width="8.99" height="2.0" fill="#fde725"/>
<rect x="442.64" y="239.01" width="8.99" height="10.31" fill="#f4e61e"/>
<rect x="442.64" y="248.32" width="8.99" height="2.0" fill="#f4e61e"/>
<rect x="450.63" y="239.01" width="40.97" height="10.31" fill="#fde725"/>
<rect x="450.63" y="248.32" width="8.99" height="2.0" fill="#fde725"/>
<rect x="458.63" y="248.32" width="8.99" height="2.0" fill="#fde725"/>
<rect x="466.62" y="248.32" width="8.99" height="2.0" fill="#fde725"/>
<rect x="474.61" y="248.32" width="8.99" height="2.0" fill="#fde725"/>
<rect x="482.61" y="248.32" width="8.99" height="2.0" fill="#fde725"/>
<rect x="490.60" y="239.01" width="8.99" height="10.31" fill="#77d153"/>
<rect x="490.60" y="248.32" width="8.99" height="2.0" fill="#77d153"/>
<rect x="498.59" y="239.01" width="23.98" height="10.31" fill="#fde725"/>
<rect x="498.59" y="248.32" width="8.99" height="2.0" fill="#fde725"/>
<rect x="506.59" y="248.32" width="8.99" height="2.0" fill="#fde725"/>
<rect x="514.58" y="248.32" width="7.99" height="2.0" fill="#fde725"/>
<rect x="530.57" y="239.01" width="7.99" height="10.31" fill="#fde725"/>
<rect x="570.53" y="239.01" width="7.99" height="10.31" fill="#fde725"/>
<rect x="594.51" y="239.01" width="7.99" height="10.31" fill="#fde725"/>
<rect x="378.69" y="249.32" width="8.99" height="10.31" fill="#fde725"/>
<rect x="378.69" y="258.62" width="8.99" height="2.0" fill="#fde725"/>
<rect x="386.69" y="249.32" width="8.99" height="10.31" fill="#a2da37"/>
<rect x="386.69" y="258.62" width="8.99" height="2.0" fill="#a2da37"/>
<rect x="394.68" y="249.32" width="8.99" height="10.31" fill="#e5e419"/>
<rect x="394.68" y="258.62" width="8.99" height="2.0" fill="#e5e419"/>
<rect x="402.67" y="249.32" width="127.89" height="10.31" fill="#fde725"/>
<rect x="402.67" y="258.62" width="8.99" height="2.0" fill="#fde725"/>
<rect x="410.67" y="258.62" width="8.99" height="2.0" fill="#fde725"/>
<rect x="418.66" y="258.62" width="8.99" height="2.0" fill="#fde725"/>
<rect x="426.65" y="258.62" width="8.99" height="2.0" fill="#fde725"/>
<rect x="434.65" y="258.62" width="8.99" height="2.0" fill="#fde725"/>
<rect x="442.64" y="258.62" width="8.99" height="2.0" fill="#fde725"/>
<rect x="450.63" y="258.62" width="8.99" height="2.0" fill="#fde725"/>
<rect x="458.63" y="258.62" width="8.99" height="2.0" fill="#fde725"/>
<rect x="466.62" y="258.62" width="8.99" height="2.0" fill="#fde725"/>
<rect x="474.61" y="258.62" width="8.99" height="2.0" fill="#fde725"/>
<rect x="482.61" y="258.62" width="8.99" height="2.0" fill="#fde725"/>
<rect x="490.60" y="258.62" width="8.99" height="2.0" fill="#fde725"/>
<rect x="498.59" y="258.62" width="7.99" height="2.0" fill="#fde725"/>
<rect x="514.58" y="258.62" width="7.99" height="2.0" fill="#fde725"/>
<rect x="546.55" y="249.32" width="15.99" height="10.31" fill="#fde725"/>
<rect x="378.69" y="259.62" width="8.99" height="10.31" fill="#fde725"/>
<rect x="378.69" y="268.93" width="8.99" height="2.0" fill="#fde725"/>
<rect x="386.69" y="259.62" width="8.99" height="10.31" fill="#d8e219"/>
<rect x="386.69" y="268.93" width="8.99" height="2.0" fill="#d8e219"/>
<rect x="394.68" y="259.62" width="24.98" height="10.31" fill="#fde725"/>
<rect x="394.68" y="268.93" width="8.99" height="2.0" fill="#fde725"/>
<rect x="402.67" y="268.93" width="8.99" height="2.0" fill="#fde725"/>
<rect x="410.67" y="268.93" width="8.99" height="2.0" fill="#fde725"/>
<rect x="418.66" y="259.62" width="8.99" height="10.31" fill="#eae51a"/>
<rect x="418.66" y="268.93" width="8.99" height="2.0" fill="#eae51a"/>
<rect x="426.65" y="259.62" width="79.93" height="10.31" fill="#fde725"/>
<rect x="426.65" y="268.93" width="8.99" height="2.0" fill="#fde725"/>
<rect x="434.65" y="268.93" width="8.99" height="2.0" fill="#fde725"/>
<rect x="442.64" y="268.93" width="8.99" height="2.0" fill="#fde725"/>
<rect x="450.63" y="268.93" width="8.99" height="2.0" fill="#fde725"/>
<rect x="458.63" y="268.93" width="8.99" height="2.0" fill="#fde725"/>
<rect x="466.62" y="268.93" width="8.99" height="2.0" fill="#fde725"/>
<rect x="474.61" y="268.93" width="8.99" height="2.0" fill="#fde725"/>
<rect x="482.61" y="268.93" width="7.99" height="2.0" fill="#fde725"/>
<rect x="514.58" y="259.62" width="7.99" height="10.31" fill="#fde725"/>
<rect x="514.58" y="268.93" width="7.99" height="2.0" fill="#fde725"/>
<rect x="378.69" y="269.93" width="111.91" height="10.31" fill="#fde725"/>
<rect x="378.69" y="279.24" width="8.99" height="2.0" fill="#fde725"/>
<rect x="386.69" y="279.24" width="8.99" height="2.0" fill="#fde725"/>
<rect x="394.68" y="279.24" width="8.99" height="2.0" fill="#fde725"/>
<rect x="402.67" y="279.24" width="8.99" height="2.0" fill="#fde725"/>
<rect x="410.67" y="279.24" width="8.99" height="2.0" fill="#fde725"/>
<rect x="418.66" y="279.24" width="8.99" height="2.0" fill="#fde725"/>
<rect x="426.65" y="279.24" width="8.99" height="2.0" fill="#fde725"/>
<rect x="434.65" y="279.24" width="7.99" height="2.0" fill="#fde725"/>
<rect x="474.61" y="279.24" width="7.99" height="2.0" fill="#fde725"/>
<rect x="514.58" y="269.93" width="7.99" height="10.31" fill="#fde725"/>
<rect x="530.57" y="269.93" width="7.99" height="10.31" fill="#fde725"/>
<rect x="370.70" y="280.24" width="71.94" height="10.31" fill="#fde725"/>
<rect x="474.61" y="280.24" width="7.99" height="10.31" fill="#fde725"/>
<rect x="506.59" y="280.24" width="7.99" height="10.31" fill="#fde725"/>
</g>
<path d="M53.59 290.30v3.5M53.59 53.20v-3.5M93.45 290.30v3.5M93.45 53.20v-3.5M133.32 290.30v3.5M133.32 53.20v-3.5M173.19 290.30v3.5M173.19 53.20v-3.5M213.05 290.30v3.5M213.05 53.20v-3.5M252.92 290.30v3.5M252.92 53.20v-3.5M49.60 285.15h-3.5M288.80 285.15h3.5M49.60 233.60h-3.5M288.80 233.60h3.5M49.60 182.06h-3.5M288.80 182.06h3.5M49.60 130.52h-3.5M288.80 130.52h3.5M49.60 78.97h-3.5M288.80 78.97h3.5" stroke="#2b2b2b" stroke-width="0.95" fill="none"/>
<rect x="49.60" y="53.20" width="239.20" height="237.10" fill="none" stroke="#2b2b2b" stroke-width="0.95"/>
<text class="tk" transform="translate(93.45,306.9) scale(0.97,1)" text-anchor="middle">5</text>
<text class="tk" transform="translate(133.32,306.9) scale(0.97,1)" text-anchor="middle">10</text>
<text class="tk" transform="translate(173.19,306.9) scale(0.97,1)" text-anchor="middle">15</text>
<text class="tk" transform="translate(213.05,306.9) scale(0.97,1)" text-anchor="middle">20</text>
<text class="tk" transform="translate(252.92,306.9) scale(0.97,1)" text-anchor="middle">25</text>
<text class="tk" transform="translate(42.70,290.35) scale(0.97,1)" text-anchor="end">0</text>
<text class="tk" transform="translate(42.70,238.80) scale(0.97,1)" text-anchor="end">5</text>
<text class="tk" transform="translate(42.70,187.26) scale(0.97,1)" text-anchor="end">10</text>
<text class="tk" transform="translate(42.70,135.72) scale(0.97,1)" text-anchor="end">15</text>
<text class="tk" transform="translate(42.70,84.17) scale(0.97,1)" text-anchor="end">20</text>
<path d="M374.90 290.30v3.5M374.90 53.20v-3.5M414.86 290.30v3.5M414.86 53.20v-3.5M454.83 290.30v3.5M454.83 53.20v-3.5M494.80 290.30v3.5M494.80 53.20v-3.5M534.76 290.30v3.5M534.76 53.20v-3.5M574.73 290.30v3.5M574.73 53.20v-3.5M370.90 285.15h-3.5M610.70 285.15h3.5M370.90 233.60h-3.5M610.70 233.60h3.5M370.90 182.06h-3.5M610.70 182.06h3.5M370.90 130.52h-3.5M610.70 130.52h3.5M370.90 78.97h-3.5M610.70 78.97h3.5" stroke="#2b2b2b" stroke-width="0.95" fill="none"/>
<rect x="370.90" y="53.20" width="239.80" height="237.10" fill="none" stroke="#2b2b2b" stroke-width="0.95"/>
<text class="tk" transform="translate(414.86,306.9) scale(0.97,1)" text-anchor="middle">5</text>
<text class="tk" transform="translate(454.83,306.9) scale(0.97,1)" text-anchor="middle">10</text>
<text class="tk" transform="translate(494.80,306.9) scale(0.97,1)" text-anchor="middle">15</text>
<text class="tk" transform="translate(534.76,306.9) scale(0.97,1)" text-anchor="middle">20</text>
<text class="tk" transform="translate(574.73,306.9) scale(0.97,1)" text-anchor="middle">25</text>
<text class="tk" transform="translate(364.00,290.35) scale(0.97,1)" text-anchor="end">0</text>
<text class="tk" transform="translate(364.00,238.80) scale(0.97,1)" text-anchor="end">5</text>
<text class="tk" transform="translate(364.00,187.26) scale(0.97,1)" text-anchor="end">10</text>
<text class="tk" transform="translate(364.00,135.72) scale(0.97,1)" text-anchor="end">15</text>
<text class="tk" transform="translate(364.00,84.17) scale(0.97,1)" text-anchor="end">20</text>
<defs><linearGradient id="vir" x1="0" y1="0" x2="0" y2="1"><stop offset="0.000" stop-color="#440154"/><stop offset="0.025" stop-color="#460a5d"/><stop offset="0.050" stop-color="#471365"/><stop offset="0.075" stop-color="#481c6e"/><stop offset="0.100" stop-color="#482475"/><stop offset="0.125" stop-color="#472c7a"/><stop offset="0.150" stop-color="#463480"/><stop offset="0.175" stop-color="#443b84"/><stop offset="0.200" stop-color="#414487"/><stop offset="0.225" stop-color="#3e4a89"/><stop offset="0.250" stop-color="#3b518b"/><stop offset="0.275" stop-color="#38598c"/><stop offset="0.300" stop-color="#355f8d"/><stop offset="0.325" stop-color="#31668e"/><stop offset="0.350" stop-color="#2f6c8e"/><stop offset="0.375" stop-color="#2c718e"/><stop offset="0.400" stop-color="#2a788e"/><stop offset="0.425" stop-color="#277e8e"/><stop offset="0.450" stop-color="#25848e"/><stop offset="0.475" stop-color="#238a8d"/><stop offset="0.500" stop-color="#21908d"/><stop offset="0.525" stop-color="#1f968b"/><stop offset="0.550" stop-color="#1e9c89"/><stop offset="0.575" stop-color="#1fa287"/><stop offset="0.600" stop-color="#22a884"/><stop offset="0.625" stop-color="#27ad81"/><stop offset="0.650" stop-color="#2fb47c"/><stop offset="0.675" stop-color="#38b977"/><stop offset="0.700" stop-color="#44bf70"/><stop offset="0.725" stop-color="#50c46a"/><stop offset="0.750" stop-color="#5cc863"/><stop offset="0.775" stop-color="#6ccd5a"/><stop offset="0.800" stop-color="#7ad151"/><stop offset="0.825" stop-color="#8bd646"/><stop offset="0.850" stop-color="#9bd93c"/><stop offset="0.875" stop-color="#aadc32"/><stop offset="0.900" stop-color="#bddf26"/><stop offset="0.925" stop-color="#cde11d"/><stop offset="0.950" stop-color="#dfe318"/><stop offset="0.975" stop-color="#efe51c"/><stop offset="1.000" stop-color="#fde725"/></linearGradient></defs>
<rect x="632.4" y="54.2" width="16.30" height="237.50" fill="url(#vir)"/>
<rect x="632.4" y="54.2" width="16.30" height="237.50" fill="none" stroke="#2b2b2b" stroke-width="0.95"/>
<text class="cb" transform="translate(656.1,296.60)">0.00</text>
<text class="cb" transform="translate(656.1,257.02)">0.05</text>
<text class="cb" transform="translate(656.1,217.43)">0.10</text>
<text class="cb" transform="translate(656.1,177.85)">0.15</text>
<text class="cb" transform="translate(656.1,138.27)">0.20</text>
<text class="cb" transform="translate(656.1,98.68)">0.25</text>
<text class="cb" transform="translate(656.1,59.10)">0.30</text>
<path d="M648.7 291.70h3.0M648.7 252.12h3.0M648.7 212.53h3.0M648.7 172.95h3.0M648.7 133.37h3.0M648.7 93.78h3.0M648.7 54.20h3.0" stroke="#2b2b2b" stroke-width="0.95" fill="none"/>
<text class="tt" text-anchor="middle"><tspan x="105.48" y="12.30">|</tspan><tspan class="it" x="111.81" y="12.30">E</tspan><tspan x="119.16" y="12.30">(</tspan><tspan class="it" x="126.67" y="12.30">G</tspan><tspan x="134.46" y="12.30">(</tspan><tspan class="it" x="140.79" y="12.30">T</tspan><tspan x="146.81" y="12.30">,</tspan><tspan x="153.29" y="12.30">σ</tspan><tspan x="160.35" y="12.30">)</tspan><tspan x="165.09" y="12.30">)</tspan><tspan class="it" x="178.93" y="12.30">E</tspan><tspan x="186.29" y="12.30">(</tspan><tspan x="193.93" y="12.30">Θ</tspan><tspan x="201.57" y="12.30">)</tspan><tspan x="205.92" y="12.30">|</tspan></text><text class="tt" text-anchor="middle" transform="translate(171.02,14.30) scale(1.65,1.36)">\</text><rect x="103.50" y="15.0" width="104.40" height="0.9" fill="#2b2b2b"/><text class="tt" text-anchor="middle"><tspan x="123.72" y="27.70">|</tspan><tspan class="it" x="130.04" y="27.70">E</tspan><tspan x="137.40" y="27.70">(</tspan><tspan class="it" x="144.91" y="27.70">G</tspan><tspan x="152.70" y="27.70">(</tspan><tspan class="it" x="159.03" y="27.70">T</tspan><tspan x="165.05" y="27.70">,</tspan><tspan x="171.53" y="27.70">σ</tspan><tspan x="178.59" y="27.70">)</tspan><tspan x="183.33" y="27.70">)</tspan><tspan x="187.68" y="27.70">|</tspan></text>
<text class="tt" text-anchor="middle"><tspan x="424.40" y="12.30">|</tspan><tspan class="it" x="430.81" y="12.30">E</tspan><tspan x="438.26" y="12.30">(</tspan><tspan class="it" x="445.87" y="12.30">G</tspan><tspan class="sub" x="453.64" y="14.30">4</tspan><tspan x="459.63" y="12.30">(</tspan><tspan class="it" x="466.03" y="12.30">T</tspan><tspan x="472.13" y="12.30">,</tspan><tspan x="478.69" y="12.30">σ</tspan><tspan x="485.85" y="12.30">)</tspan><tspan x="490.65" y="12.30">)</tspan><tspan class="it" x="504.66" y="12.30">E</tspan><tspan x="512.11" y="12.30">(</tspan><tspan x="519.85" y="12.30">Θ</tspan><tspan x="527.59" y="12.30">)</tspan><tspan x="532.00" y="12.30">|</tspan></text><text class="tt" text-anchor="middle" transform="translate(496.65,14.30) scale(1.65,1.36)">\</text><rect x="422.40" y="15.0" width="111.60" height="0.9" fill="#2b2b2b"/><text class="tt" text-anchor="middle"><tspan x="442.88" y="27.70">|</tspan><tspan class="it" x="449.28" y="27.70">E</tspan><tspan x="456.74" y="27.70">(</tspan><tspan class="it" x="464.34" y="27.70">G</tspan><tspan class="sub" x="472.12" y="29.70">4</tspan><tspan x="478.10" y="27.70">(</tspan><tspan class="it" x="484.51" y="27.70">T</tspan><tspan x="490.60" y="27.70">,</tspan><tspan x="497.16" y="27.70">σ</tspan><tspan x="504.32" y="27.70">)</tspan><tspan x="509.12" y="27.70">)</tspan><tspan x="513.52" y="27.70">|</tspan></text>
<text class="lb" transform="translate(168.8,332.0) scale(0.91,1)" text-anchor="middle">Number of Duplications</text>
<text class="lb" transform="translate(490.4,332.0) scale(0.91,1)" text-anchor="middle">Number of Duplications</text>
<text class="lb" transform="translate(14.9,171.9) rotate(-90) scale(0.915,0.95)" text-anchor="middle">Number of Losses</text>
<text class="lb" transform="translate(336.2,171.9) rotate(-90) scale(0.915,0.95)" text-anchor="middle">Number of Losses</text>
</svg>
</body></html>
